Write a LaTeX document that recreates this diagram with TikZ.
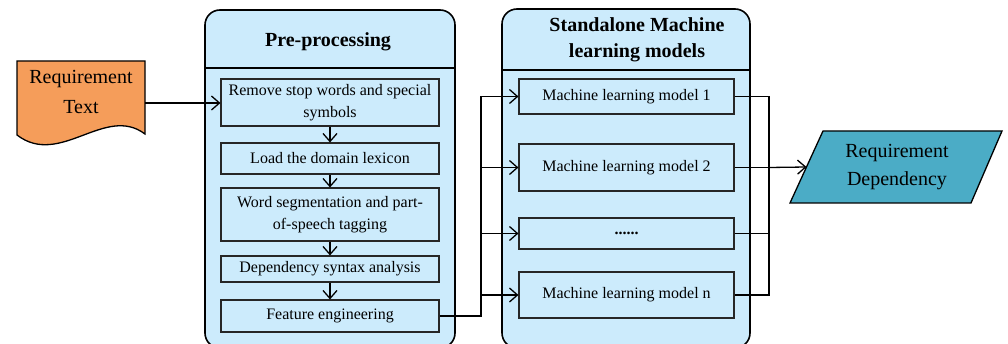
\documentclass[tikz,border=0pt]{standalone}
\usepackage{fontspec}
\setmainfont{Liberation Serif}
\usetikzlibrary{arrows.meta,calc}

\definecolor{paleblue}{HTML}{CCEBFC}
\definecolor{docorange}{HTML}{F59D5A}
\definecolor{outteal}{HTML}{4BACC6}

\tikzset{
  panel/.style={draw=black, line width=1.6pt, fill=paleblue, rounded corners=15pt},
  stepbox/.style={draw=black!85, line width=1.1pt, fill=paleblue, align=center,
    font=\fontsize{16}{22}\selectfont, inner sep=0pt},
  paneltitle/.style={align=center, font=\fontsize{20}{26}\selectfont\bfseries},
  arr/.style={line width=1.3pt, -{Straight Barb[length=8pt,width=14pt,line width=1.3pt]}},
  wire/.style={line width=1.3pt},
}

\begin{document}
\begin{tikzpicture}[x=1pt, y={(0pt,-1pt)}]
\useasboundingbox (0,0) rectangle (1008,344);
\clip (0,0) rectangle (1008,344);

% ---- pre-processing panel ----
\draw[panel] (205,10) rectangle (455,348);
\draw[line width=1.6pt] (205,68) -- (455,68);
\node[paneltitle] (pptitle) at (328,42) {Pre-processing};

\node[stepbox, minimum width=218pt, minimum height=47pt] (s1) at (330,102.5)
  {Remove stop words and special\\symbols};
\node[stepbox, minimum width=218pt, minimum height=31pt] (s2) at (330,158.5)
  {Load the domain lexicon};
\node[stepbox, minimum width=218pt, minimum height=53pt] (s3) at (330,214.5)
  {Word segmentation and part-\\of-speech tagging};
\node[stepbox, minimum width=218pt, minimum height=26pt] (s4) at (330,269)
  {Dependency syntax analysis};
\node[stepbox, minimum width=218pt, minimum height=32pt] (s5) at (330,316)
  {Feature engineering};

\draw[arr] (s1) -- (s2);
\draw[arr] (s2) -- (s3);
\draw[arr] (s3) -- (s4);
\draw[arr] (s4) -- (s5);

% ---- standalone model panel ----
\draw[panel] (502,9) rectangle (750,348);
\draw[line width=1.6pt] (502,70) -- (750,70);
\node[paneltitle] (mltitle) at (637,40) {Standalone Machine\\learning models};

\node[stepbox, minimum width=215pt, minimum height=35pt] (m1) at (626.5,96.5)
  {Machine learning model 1};
\node[stepbox, minimum width=215pt, minimum height=47pt] (m2) at (626.5,167.5)
  {Machine learning model 2};
\node[stepbox, minimum width=215pt, minimum height=31pt] (m3) at (626.5,233.5)
  {\textbf{......}};
\node[stepbox, minimum width=215pt, minimum height=46pt] (m4) at (626.5,295)
  {Machine learning model n};

% ---- requirement text (document shape) ----
\draw[line width=1.3pt, fill=docorange]
  (17,61) -- (145,61) -- (145,134)
  .. controls (105,104) and (60,168) .. (17,135) -- cycle;
\node[align=center, font=\fontsize{20}{30}\selectfont] (reqtext) at (81,92)
  {Requirement\\Text};
\coordinate (docout) at (145,103);
\draw[arr] (docout) -- (s1.west |- docout);

% ---- feature engineering to each model ----
\coordinate (busL) at (481,0);
\draw[wire] (s5.east) -| (busL |- m1.west);
\draw[arr] (busL |- m1.west) -- (m1.west);
\draw[arr] (busL |- m2.west) -- (m2.west);
\draw[arr] (busL |- m3.west) -- (m3.west);
\draw[arr] (busL |- m4.west) -- (m4.west);

% ---- models to requirement dependency ----
\coordinate (busR) at (769,0);
\draw[wire] (m1.east) -| (busR |- m4.east) -- (m4.east);
\draw[wire] (m2.east) -- (busR |- m2.east);
\draw[wire] (m3.east) -- (busR |- m3.east);

\draw[line width=1.3pt, fill=outteal]
  (823,131) -- (1002,131) -- (971,203) -- (790,203) -- cycle;
\node[align=center, font=\fontsize{20}{28}\selectfont] (dep) at (897,167)
  {Requirement\\Dependency};
\coordinate (depin) at (806.5,167);
\draw[arr] (busR |- m2.east) -- (depin);
\end{tikzpicture}
\end{document}
